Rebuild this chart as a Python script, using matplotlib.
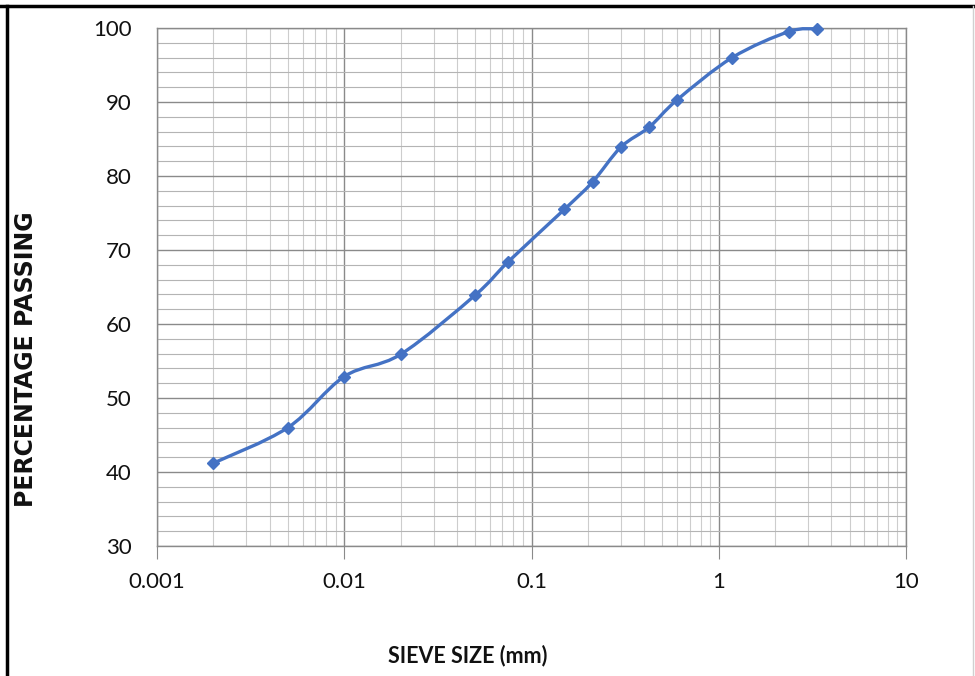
import numpy as np
import matplotlib
matplotlib.use("Agg")
import matplotlib.pyplot as plt
from matplotlib.path import Path
from matplotlib.patches import PathPatch
from matplotlib.lines import Line2D
from matplotlib.ticker import LogLocator, MultipleLocator, FixedLocator, FixedFormatter, NullFormatter

# sieve analysis
sieve_mm = [0.002, 0.005, 0.01, 0.02, 0.05, 0.075, 0.15, 0.212, 0.3, 0.425, 0.6, 1.18, 2.36, 3.35]
passing = [41.2, 46.0, 52.9, 55.9, 63.9, 68.4, 75.5, 79.2, 83.9, 86.6, 90.3, 96.0, 99.5, 99.9]

x_ticks = [0.001, 0.01, 0.1, 1, 10]
x_tick_labels = ["0.001", "0.01", "0.1", "1", "10"]
y_ticks = [30, 40, 50, 60, 70, 80, 90, 100]

blue = "#4472C4"
num_font = ["Lato", "DejaVu Sans"]


def smooth_path(xs, ys, tension=1 / 6):
    # catmull-rom style bezier (like excel's smoothed line), built in log-x space
    u = np.log10(xs)
    v = np.asarray(ys, dtype=float)
    n = len(u)
    verts = [(xs[0], v[0])]
    codes = [Path.MOVETO]
    for i in range(n - 1):
        u0, v0 = (u[i - 1], v[i - 1]) if i > 0 else (u[i], v[i])
        u3, v3 = (u[i + 2], v[i + 2]) if i + 2 < n else (u[i + 1], v[i + 1])
        c1 = (u[i] + (u[i + 1] - u0) * tension, v[i] + (v[i + 1] - v0) * tension)
        c2 = (u[i + 1] - (u3 - u[i]) * tension, v[i + 1] - (v3 - v[i]) * tension)
        verts += [(10 ** c1[0], c1[1]), (10 ** c2[0], c2[1]), (xs[i + 1], v[i + 1])]
        codes += [Path.CURVE4] * 3
    return Path(verts, codes)


fig = plt.figure(figsize=(9.75, 6.76), dpi=100)
ax = fig.add_axes([157 / 975, 1 - 546 / 676, (906 - 157) / 975, (546 - 28) / 676])

ax.set_xscale("log")
ax.set_xlim(0.001, 10)
ax.set_ylim(30, 100)

ax.xaxis.set_major_locator(FixedLocator(x_ticks))
ax.xaxis.set_major_formatter(FixedFormatter(x_tick_labels))
ax.xaxis.set_minor_locator(LogLocator(base=10, subs=np.arange(2, 10)))
ax.xaxis.set_minor_formatter(NullFormatter())
ax.yaxis.set_major_locator(FixedLocator(y_ticks))
ax.yaxis.set_minor_locator(MultipleLocator(2))

ax.grid(which="major", color="#8a8a8a", linewidth=1.0)
ax.xaxis.grid(which="minor", color="#cdcdcd", linewidth=0.8)
ax.yaxis.grid(which="minor", color="#b4b4b4", linewidth=0.8)
ax.set_axisbelow(True)

for s in ax.spines.values():
    s.set_color("#8a8a8a")
    s.set_linewidth(1.0)

ax.tick_params(axis="x", which="major", length=9, color="#8a8a8a", pad=10)
ax.tick_params(axis="x", which="minor", length=0)
ax.tick_params(axis="y", which="both", length=0, pad=18)
for lab in ax.get_xticklabels() + ax.get_yticklabels():
    lab.set_fontfamily(num_font)
    lab.set_fontsize(16)
    lab.set_color("#111111")

ax.add_patch(PathPatch(smooth_path(sieve_mm, passing), facecolor="none",
                       edgecolor=blue, linewidth=2.4, transform=ax.transData,
                       clip_on=False, zorder=3))
ax.plot(sieve_mm, passing, linestyle="none", marker="D", markersize=6,
        color=blue, clip_on=False, zorder=4)

fig.text(468 / 975, 1 - 656 / 676, "SIEVE SIZE (mm)", ha="center", va="center",
         fontsize=15.5, fontweight="bold", family=num_font, color="#111111")
fig.text(26 / 975, 1 - 359 / 676, "PERCENTAGE PASSING", ha="center", va="center",
         rotation=90, fontsize=17, fontweight="bold", family="DejaVu Sans",
         color="#111111")

# picture frame
fig.add_artist(Line2D([0, 1], [1 - 6 / 676] * 2, color="black", linewidth=2.5,
                      transform=fig.transFigure))
fig.add_artist(Line2D([7 / 975] * 2, [0, 1 - 6 / 676], color="black", linewidth=2.5,
                      transform=fig.transFigure))
fig.add_artist(Line2D([973 / 975] * 2, [0, 1 - 6 / 676], color="#d0d0d0", linewidth=1.0,
                      transform=fig.transFigure))

fig.savefig("out.png", dpi=100, facecolor="white")
